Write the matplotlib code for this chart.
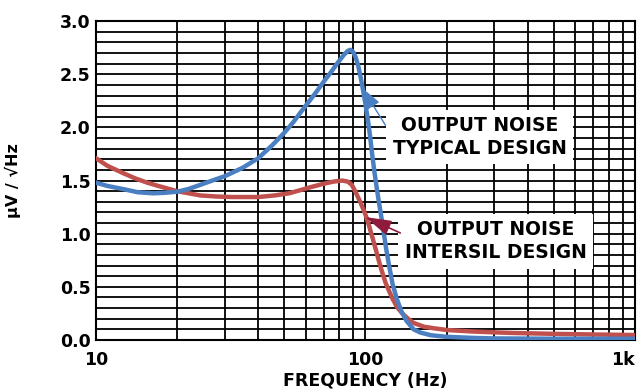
import numpy as np
import matplotlib
matplotlib.use("Agg")
import matplotlib.pyplot as plt
from matplotlib.ticker import FixedLocator, NullFormatter

# (Hz, uV/rtHz)
typ_freq = [10, 11, 12.6, 14.3, 16.3, 18, 20, 22, 24.4, 27, 30, 35, 40, 45, 50, 54,
            57.4, 62, 66, 70, 75, 79, 83, 86, 88, 90, 92, 94, 96, 98, 100, 102, 104,
            106, 108, 110, 112, 114, 116, 119, 122, 126, 131, 136, 142, 151, 160,
            175, 200, 250, 300, 500, 1000]
typ_noise = [1.48, 1.45, 1.42, 1.39, 1.38, 1.385, 1.395, 1.42, 1.46, 1.50, 1.54, 1.62,
             1.71, 1.83, 1.95, 2.05, 2.14, 2.25, 2.34, 2.43, 2.53, 2.61, 2.68, 2.72,
             2.73, 2.71, 2.66, 2.58, 2.47, 2.35, 2.22, 2.08, 1.92, 1.74, 1.58, 1.44,
             1.31, 1.19, 1.07, 0.88, 0.72, 0.53, 0.38, 0.27, 0.18, 0.10, 0.07, 0.045,
             0.03, 0.02, 0.015, 0.012, 0.012]

isl_freq = [10, 11, 12.6, 14, 15.5, 17, 20, 24.4, 28, 32, 40, 46, 52, 57.4, 63, 70,
            76, 82, 86, 89, 92, 96, 100, 103, 106, 109, 112, 115, 118.7, 122, 126,
            131, 137, 144, 151, 165, 180, 201, 250, 300, 355, 500, 700, 1000]
isl_noise = [1.71, 1.64, 1.57, 1.52, 1.48, 1.45, 1.40, 1.36, 1.35, 1.345, 1.345, 1.36,
             1.38, 1.41, 1.44, 1.47, 1.49, 1.50, 1.49, 1.46, 1.39, 1.29, 1.18, 1.08,
             0.97, 0.86, 0.75, 0.65, 0.54, 0.47, 0.39, 0.31, 0.25, 0.20, 0.16, 0.125,
             0.11, 0.094, 0.08, 0.072, 0.066, 0.058, 0.052, 0.047]

x_ticks = [10, 100, 1000]
x_labels = ["10", "100", "1k"]
y_ticks = [0.0, 0.5, 1.0, 1.5, 2.0, 2.5, 3.0]

blue = "#4a7fc1"
red = "#c0504d"
dark_red = "#8e1a3c"

plt.rcParams['font.family'] = ['DejaVu Sans']
plt.rcParams['font.weight'] = 'bold'

fig = plt.figure(figsize=(6.4, 3.91), dpi=100)
ax = fig.add_axes([0.15, 0.1304, 0.842, 0.8156])

ax.plot(isl_freq, isl_noise, color=red, lw=3.2, solid_joinstyle='round', zorder=3)
ax.plot(typ_freq, typ_noise, color=blue, lw=3.2, solid_joinstyle='round', zorder=4)

ax.set_xscale('log')
ax.set_xlim(10, 1000)
ax.set_ylim(0, 3.0)
ax.set_xticks(x_ticks)
ax.set_xticklabels(x_labels)
ax.get_xticklabels()[-1].set_horizontalalignment('right')  # keep "1k" inside the figure
minor_x = [m * d for d in (10, 100) for m in range(2, 10)]
ax.xaxis.set_minor_locator(FixedLocator(minor_x))
ax.xaxis.set_minor_formatter(NullFormatter())
ax.set_yticks(y_ticks)
ax.set_yticklabels(["%.1f" % v for v in y_ticks])
ax.set_yticks(np.arange(0, 3.01, 0.1), minor=True)
ax.grid(True, which='both', color='black', lw=1.3, zorder=1)
ax.tick_params(which='both', length=0, labelsize=12.5, pad=4)
ax.tick_params(axis='x', pad=8)
for s in ax.spines.values():
    s.set_linewidth(1.5)

ax.set_xlabel("FREQUENCY (Hz)", fontsize=12.5, fontweight='bold', labelpad=2)
ax.set_ylabel("µV / √Hz", fontsize=11.5, fontweight='bold', labelpad=28)

box = dict(boxstyle='square,pad=0.35', fc='white', ec='none')
ax.text(265, 1.91, "OUTPUT NOISE\nTYPICAL DESIGN", fontsize=13.5, fontweight='bold',
        ha='center', va='center', linespacing=1.25, bbox=box, zorder=6)
ax.text(304, 0.93, "OUTPUT NOISE\nINTERSIL DESIGN", fontsize=13.5, fontweight='bold',
        ha='center', va='center', linespacing=1.25, bbox=box, zorder=6)

ax.annotate("", xy=(97.4, 2.37), xytext=(118.7, 2.02),
            arrowprops=dict(arrowstyle='-|>,head_length=1.3,head_width=0.43',
                            color=blue, lw=1, shrinkA=0, shrinkB=0), zorder=7)
ax.annotate("", xy=(100, 1.157), xytext=(134.7, 1.007),
            arrowprops=dict(arrowstyle='-|>,head_length=1.6,head_width=0.47',
                            color=dark_red, lw=1.2, shrinkA=0, shrinkB=0), zorder=7)

fig.savefig("out.png", dpi=100)
